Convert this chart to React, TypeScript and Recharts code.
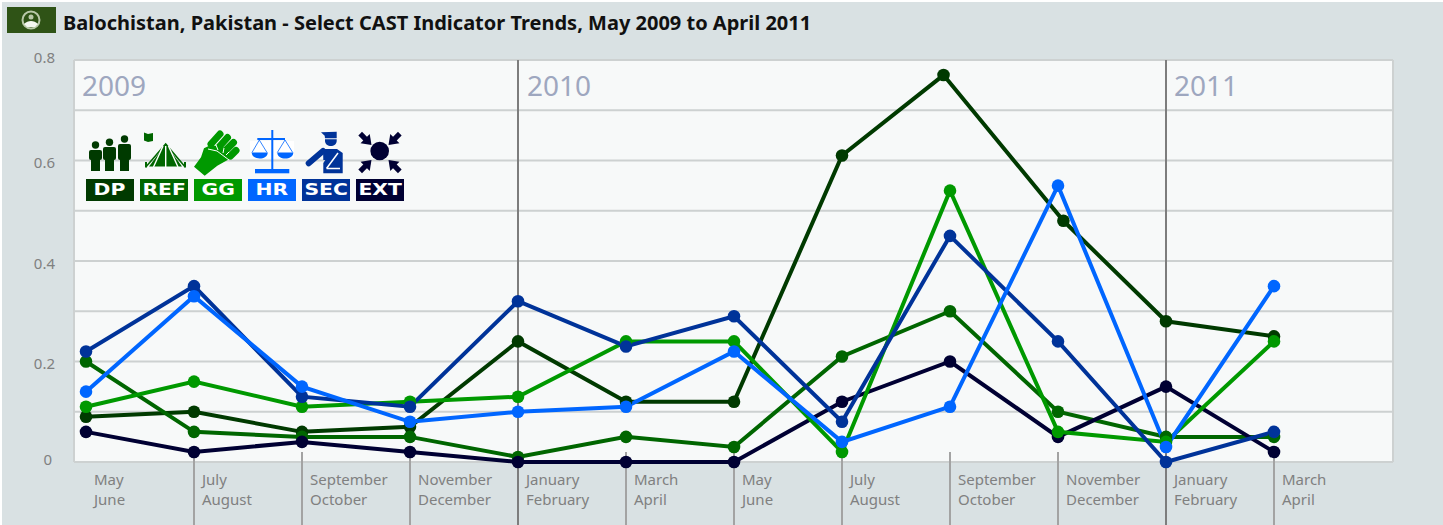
import { CartesianGrid, Line, LineChart, ReferenceLine, XAxis, YAxis } from "recharts";

const PERIODS = [
  "May|June", "July|August", "September|October", "November|December",
  "January|February", "March|April", "May|June", "July|August",
  "September|October", "November|December", "January|February", "March|April",
];
const PERIOD_X = [0, 1, 2, 3, 4, 5, 6, 7, 8, 9, 10, 11];
// the DP line is drawn slightly off the grid at its peak in the original
const DP_X = [0, 1, 2, 3, 4, 5, 6, 7, 7.94, 9.05, 10, 11];
const DP = [0.09, 0.1, 0.06, 0.07, 0.24, 0.12, 0.12, 0.61, 0.77, 0.48, 0.28, 0.25];
const REF = [0.2, 0.06, 0.05, 0.05, 0.01, 0.05, 0.03, 0.21, 0.3, 0.1, 0.05, 0.05];
const GG = [0.11, 0.16, 0.11, 0.12, 0.13, 0.24, 0.24, 0.02, 0.54, 0.06, 0.04, 0.24];
const HR = [0.14, 0.33, 0.15, 0.08, 0.1, 0.11, 0.22, 0.04, 0.11, 0.55, 0.03, 0.35];
const SEC = [0.22, 0.35, 0.13, 0.11, 0.32, 0.23, 0.29, 0.08, 0.45, 0.24, 0, 0.06];
const EXT = [0.06, 0.02, 0.04, 0.02, 0, 0, 0, 0.12, 0.2, 0.05, 0.15, 0.02];
const Y_TICKS = [0, 0.1, 0.2, 0.3, 0.4, 0.5, 0.6, 0.7, 0.8];
const Y_LABELS = [0, 0.2, 0.4, 0.6, 0.8];
const YEAR_STARTS = [4, 10];

const COLORS: Record<string, string> = {
  DP: "#003a00",
  REF: "#006600",
  GG: "#009900",
  HR: "#0066ff",
  SEC: "#003399",
  EXT: "#000033",
};
const BADGES = ["DP", "REF", "GG", "HR", "SEC", "EXT"];

function points(xs: number[], values: number[]) {
  return values.map((v, i) => ({ x: xs[i], v }));
}

const SERIES = [
  { name: "DP", data: points(DP_X, DP) },
  { name: "REF", data: points(PERIOD_X, REF) },
  { name: "EXT", data: points(PERIOD_X, EXT) },
  { name: "GG", data: points(PERIOD_X, GG) },
  { name: "SEC", data: points(PERIOD_X, SEC) },
  { name: "HR", data: points(PERIOD_X, HR) },
];

const FONT = "'Noto Sans', sans-serif";
const GREY = "#808080";
const GRID = "#cdd1d1";

function XTick({ x, payload }: any) {
  const [a, b] = PERIODS[payload.value].split("|");
  return (
    <g>
      <text x={x + 8} y={485} fontFamily={FONT} fontSize={15} fill={GREY}>{a}</text>
      <text x={x + 8} y={505} fontFamily={FONT} fontSize={15} fill={GREY}>{b}</text>
    </g>
  );
}

function YTick({ y, payload }: any) {
  const v = payload.value;
  if (!Y_LABELS.includes(v)) return null;
  const edge = v === 0 || v === 0.8;
  return (
    <text x={v === 0 ? 52 : 55} y={y + (edge ? 3 : 7.5)} textAnchor="end" fontFamily={FONT} fontSize={15} fill={GREY}>
      {v}
    </text>
  );
}

function yearLabel(text: string, dx: number) {
  return ({ viewBox }: any) => (
    <text x={viewBox.x + dx} y={96} fontFamily={FONT} fontSize={28} fill="#9ea7bf">
      {text}
    </text>
  );
}

// period separator hanging below the plot, kept under the dots
function Separator({ x1 }: any) {
  return <line x1={x1} x2={x1} y1={452} y2={525} stroke="#a3a3a3" strokeWidth={2} />;
}

function YearLine({ x1 }: any) {
  return <line x1={x1} x2={x1} y1={60} y2={525} stroke="#7d7d7d" strokeWidth={2} />;
}

function Person({ x, top, head }: { x: number; top: number; head: number }) {
  return (
    <g fill={COLORS.DP}>
      <circle cx={x + 6.5} cy={head} r={3.7} />
      <rect x={x} y={top} width={13} height={160 - top} rx={2} />
      <rect x={x + 2} y={top + 2} width={9} height={169 - top} />
    </g>
  );
}

function Arrow({ tip, angle }: { tip: [number, number]; angle: number }) {
  return (
    <g transform={`translate(${tip[0]} ${tip[1]}) rotate(${angle})`} fill={COLORS.EXT}>
      <path d="M0 0L-9 -6.5V6.5z" />
      <rect x={-16} y={-2.6} width={9} height={5.2} />
    </g>
  );
}

// legend pictograms, in page pixels
function Icons() {
  return (
    <svg width={420} height={180} style={{ position: "absolute", left: 0, top: 0, overflow: "visible" }}>
      <Person x={89} top={150} head={145} />
      <Person x={103} top={147} head={142.3} />
      <Person x={118} top={144} head={139} />

      <path d="M144 132.5l4 1.5 5-1v8l-5 1-4-1.5z" fill={COLORS.REF} />
      <path d="M165.7 144L149 166.5h33z" fill={COLORS.REF} />
      <path d="M146 166.7L165.7 144l19.3 22.7" fill="none" stroke={COLORS.REF} strokeWidth={1.6} />
      <path d="M146 162v5.5M185 162v5.5" stroke={COLORS.REF} strokeWidth={2} />
      <path d="M165.7 146v22M163 146l-9.5 21M168.5 146l9.5 21" stroke="#fff" strokeWidth={1.4} />

      <path d="M194 166.7l10.7 9 12.6-10 13.4-7.4-3.4-10-16.6-3.3-6.7 3.3-3 9z" fill={COLORS.GG} />
      <g stroke={COLORS.GG} strokeWidth={7} strokeLinecap="round">
        <path d="M211 144l9-10M219 147l8.5-9.5M225.5 150.5l8-8M230.5 156l5.5-5.5" />
      </g>
      <path d="M208 149l9 2 12 9M216 145l2 5M224 148l-1 5M229 152l-3 3" fill="none" stroke="#fff" strokeWidth={1} />

      <rect x={250} y={141} width={44} height={17.5} fill="#fff" />
      <g stroke={COLORS.HR} fill="none">
        <path d="M272.3 130v40" strokeWidth={2} />
        <path d="M257.3 139H285" strokeWidth={2} />
        <path d="M259.3 140L252 152.5M259.3 140l7.7 12.5M285 140l-7.7 12.5M285 140l7.7 12.5" strokeWidth={0.8} />
      </g>
      <rect x={255} y={169} width={34.3} height={4.3} fill={COLORS.HR} />
      <path d="M251.7 152.5h16c0 8-16 8-16 0zM277.3 152.5h16c0 8-16 8-16 0z" fill={COLORS.HR} />

      <g fill={COLORS.SEC}>
        <path d="M321 132.3l15.7-.6v6.6H325l-.3-2.6z" />
        <path d="M325 139.3h11.7v1.5c0 7-11.7 7-11.7 0z" />
        <path d="M323 149h14l5.7 4v20.3h-19.4v-10.3l2-3-2 0z" />
      </g>
      <path d="M308.7 163.3L323 151" stroke={COLORS.SEC} strokeWidth={6} strokeLinecap="round" />
      <path d="M326.5 168.5L338 153M326.5 168.5H340" fill="none" stroke="#fff" strokeWidth={1.5} />

      <circle cx={379.7} cy={151} r={9.3} fill={COLORS.EXT} />
      <Arrow tip={[371.5, 145]} angle={45} />
      <Arrow tip={[388.5, 145]} angle={135} />
      <Arrow tip={[371.5, 160]} angle={-45} />
      <Arrow tip={[388.5, 160]} angle={-135} />
    </svg>
  );
}

function Badges() {
  return (
    <>
      {BADGES.map((name, i) => (
        <div
          key={name}
          style={{
            position: "absolute",
            left: 86 + i * 54,
            top: 179,
            width: 48,
            height: 22,
            background: COLORS[name],
            color: "#fff",
            fontFamily: "'DejaVu Sans', sans-serif",
            fontWeight: 700,
            fontSize: 16,
            lineHeight: "22px",
            textAlign: "center",
          }}
        >
          <span style={{ display: "inline-block", transform: "scaleX(1.27)" }}>{name}</span>
        </div>
      ))}
    </>
  );
}

export default function App() {
  return (
    <div style={{ position: "absolute", left: 0, top: 0, width: 1443, height: 525, background: "#fff", overflow: "hidden" }}>
      <div style={{ position: "absolute", left: 2, top: 2, width: 1441, height: 523, background: "#d9e1e3" }} />
      <div style={{ position: "absolute", left: 7, top: 7, width: 49, height: 26, background: "#2f5316" }}>
        <svg width={49} height={26}>
          <circle cx={24} cy={13} r={8.5} fill="none" stroke="#b9c9a9" strokeWidth={2} />
          <path d="M17 17c4-4 10-4 14 0l-3 3h-8z" fill="#f4f7f0" />
          <circle cx={24} cy={10} r={2.5} fill="#b9c9a9" />
        </svg>
      </div>
      <div
        style={{
          position: "absolute",
          left: 63,
          top: 9,
          fontFamily: FONT,
          fontWeight: 700,
          fontSize: 20,
          lineHeight: "28px",
          color: "#111",
          whiteSpace: "nowrap",
        }}
      >
        Balochistan, Pakistan - Select CAST Indicator Trends, May 2009 to April 2011
      </div>
      <div style={{ position: "absolute", left: 0, top: 0 }}>
        <LineChart width={1443} height={525} margin={{ top: 60, right: 50, bottom: 0, left: 0 }}>
          <CartesianGrid
            fill="#f7f9f9"
            stroke={GRID}
            strokeWidth={2}
            horizontalValues={Y_TICKS}
            verticalCoordinatesGenerator={() => [74, 1393]}
          />
          <XAxis
            dataKey="x"
            type="number"
            height={63}
            domain={[-12 / 108, 1307 / 108]}
            ticks={PERIOD_X}
            interval={0}
            axisLine={false}
            tickLine={false}
            tick={<XTick />}
          />
          <YAxis
            width={74}
            domain={[0, 0.8]}
            ticks={Y_TICKS}
            interval={0}
            axisLine={false}
            tickLine={false}
            tick={<YTick />}
          />
          {PERIOD_X.filter((x) => x > 0 && !YEAR_STARTS.includes(x)).map((x) => (
            <ReferenceLine key={x} x={x} shape={<Separator />} />
          ))}
          <ReferenceLine x={0} stroke="none" label={yearLabel("2009", -4)} />
          <ReferenceLine x={YEAR_STARTS[0]} shape={<YearLine />} label={yearLabel("2010", 9)} />
          <ReferenceLine x={YEAR_STARTS[1]} shape={<YearLine />} label={yearLabel("2011", 8)} />
          {SERIES.map((s) => (
            <Line
              key={s.name}
              data={s.data}
              dataKey="v"
              name={s.name}
              type="linear"
              stroke={COLORS[s.name]}
              strokeWidth={4}
              dot={{ r: 6.3, fill: COLORS[s.name], stroke: "none" }}
              activeDot={false}
              isAnimationActive={false}
            />
          ))}
        </LineChart>
      </div>
      <Icons />
      <Badges />
    </div>
  );
}
